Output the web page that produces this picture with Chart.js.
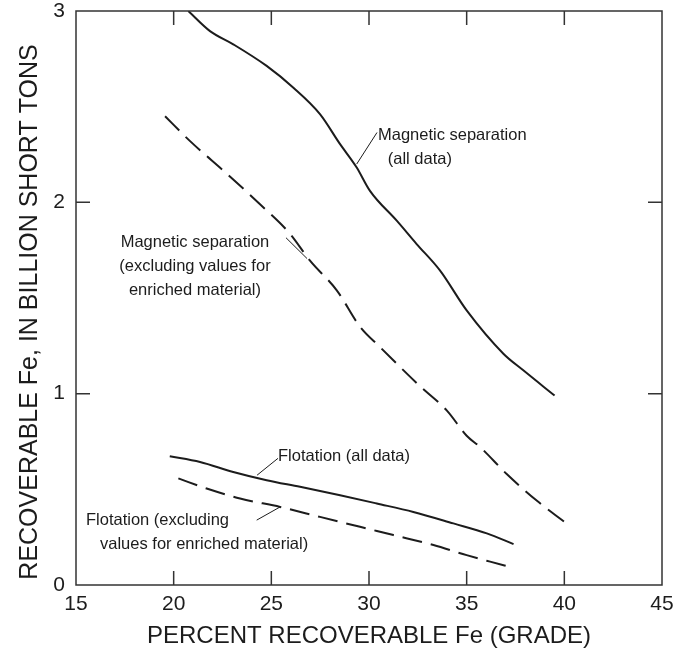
<!DOCTYPE html>
<html lang="en">
<head>
    <meta charset="UTF-8">
    <title>Recoverable Fe vs grade</title>
    <style>
        body {
            margin: 0;
            padding: 0;
            background: #ffffff;
        }
        #chart {
            display: block;
        }
    </style>
</head>
<body>
    <canvas id="chart" width="688" height="653"></canvas>

    <script src="https://cdn.jsdelivr.net/npm/chart.js"></script>
    <script>
        // Grade (percent recoverable Fe) and tonnage (billion short tons)
        const magAllX = [20.75, 21.86, 23.05, 24.76, 26.13, 27.49, 28.52, 29.37, 30.05, 31.42, 32.44, 33.64, 35.0, 36.88, 37.9, 39.5];
        const magAllY = [3.0, 2.895, 2.826, 2.713, 2.599, 2.461, 2.304, 2.182, 2.06, 1.904, 1.782, 1.643, 1.435, 1.209, 1.122, 0.99];

        const magExclX = [19.56, 20.84, 22.72, 24.42, 25.96, 26.98, 28.35, 29.54, 30.57, 32.6, 34.0, 35.0, 35.7, 37.05, 38.6, 40.0];
        const magExclY = [2.45, 2.32, 2.15, 1.99, 1.835, 1.695, 1.54, 1.35, 1.243, 1.04, 0.91, 0.78, 0.72, 0.58, 0.44, 0.33];

        const flotAllX = [19.8, 21.35, 23.05, 24.76, 26.47, 28.52, 30.4, 32.27, 34.32, 36.03, 37.4];
        const flotAllY = [0.673, 0.643, 0.591, 0.548, 0.513, 0.469, 0.426, 0.382, 0.322, 0.27, 0.214];

        const flotExclX = [20.24, 21.69, 23.4, 25.45, 27.49, 29.54, 31.25, 33.3, 35.0, 36.2, 37.3];
        const flotExclY = [0.557, 0.504, 0.452, 0.408, 0.356, 0.304, 0.261, 0.209, 0.156, 0.122, 0.092];

        const xTicks = [15, 20, 25, 30, 35, 40, 45];
        const yTicks = [0, 1, 2, 3];

        const xTitle = 'PERCENT RECOVERABLE Fe (GRADE)';
        const yTitle = 'RECOVERABLE Fe, IN BILLION SHORT TONS';

        const FONT = '"Liberation Sans", Arial, Helvetica, sans-serif';
        const INK = '#1c1c1c';

        function toPoints(xs, ys) {
            return xs.map((x, i) => ({ x: x, y: ys[i] }));
        }

        function lineSet(xs, ys, dashed) {
            return {
                data: toPoints(xs, ys),
                showLine: true,
                borderColor: INK,
                borderWidth: 2,
                borderDash: dashed ? [20, 9] : [],
                pointRadius: 0,
                cubicInterpolationMode: 'monotone',
                fill: false
            };
        }

        // Curve labels, anchored in data coordinates; leader = [x1, y1, x2, y2]
        const notes = [
            { lines: ['Magnetic separation', '(all data)'], x: 30.46, y: 2.35, dx: [0, 0.5], align: 'left', leader: [30.41, 2.365, 29.37, 2.20] },
            { lines: ['Magnetic separation', '(excluding values for', 'enriched material)'], x: 21.09, y: 1.789, align: 'center', leader: [25.75, 1.815, 26.83, 1.706] },
            { lines: ['Flotation (all data)'], x: 25.34, y: 0.67, align: 'left', leader: [25.34, 0.662, 24.27, 0.574] },
            { lines: ['Flotation (excluding', 'values for enriched material)'], x: 15.51, y: 0.335, dx: [0, 0.72], align: 'left', leader: [24.25, 0.339, 25.45, 0.408] }
        ];

        const framePlugin = {
            id: 'frame',
            afterDraw(chart) {
                const ctx = chart.ctx;
                const a = chart.chartArea;
                const xs = chart.scales.x;
                const ys = chart.scales.y;
                const tick = 14;
                ctx.save();
                ctx.strokeStyle = '#333';
                ctx.lineWidth = 1.5;
                ctx.strokeRect(a.left, a.top, a.right - a.left, a.bottom - a.top);
                ctx.beginPath();
                xTicks.slice(1, -1).forEach(v => {
                    const px = xs.getPixelForValue(v);
                    ctx.moveTo(px, a.bottom); ctx.lineTo(px, a.bottom - tick);
                    ctx.moveTo(px, a.top); ctx.lineTo(px, a.top + tick);
                });
                yTicks.slice(1, -1).forEach(v => {
                    const py = ys.getPixelForValue(v);
                    ctx.moveTo(a.left, py); ctx.lineTo(a.left + tick, py);
                    ctx.moveTo(a.right, py); ctx.lineTo(a.right - tick, py);
                });
                ctx.stroke();

                // axis titles
                ctx.fillStyle = INK;
                ctx.font = '24px ' + FONT;
                ctx.textAlign = 'center';
                ctx.textBaseline = 'middle';
                ctx.fillText(xTitle, (a.left + a.right) / 2, 636);
                ctx.save();
                ctx.translate(30, 312);
                ctx.rotate(-Math.PI / 2);
                ctx.font = '25px ' + FONT;
                ctx.fillText(yTitle, 0, 0);
                ctx.restore();

                // curve labels and leader lines
                ctx.font = '16.5px ' + FONT;
                ctx.lineWidth = 1;
                ctx.strokeStyle = INK;
                notes.forEach(n => {
                    ctx.textAlign = n.align;
                    const x0 = xs.getPixelForValue(n.x);
                    const y0 = ys.getPixelForValue(n.y);
                    n.lines.forEach((t, i) => {
                        const off = n.dx ? xs.getPixelForValue(n.x + n.dx[i]) - x0 : 0;
                        ctx.fillText(t, x0 + off, y0 + i * 24);
                    });
                    const l = n.leader;
                    ctx.beginPath();
                    ctx.moveTo(xs.getPixelForValue(l[0]), ys.getPixelForValue(l[1]));
                    ctx.lineTo(xs.getPixelForValue(l[2]), ys.getPixelForValue(l[3]));
                    ctx.stroke();
                });
                ctx.restore();
            }
        };

        new Chart(document.getElementById('chart'), {
            type: 'scatter',
            data: {
                datasets: [
                    lineSet(magAllX, magAllY, false),
                    lineSet(magExclX, magExclY, true),
                    lineSet(flotAllX, flotAllY, false),
                    lineSet(flotExclX, flotExclY, true)
                ]
            },
            options: {
                responsive: false,
                animation: false,
                layout: { padding: { top: 11, right: 26, left: 0, bottom: 0 } },
                plugins: {
                    legend: { display: false },
                    tooltip: { enabled: false }
                },
                scales: {
                    x: {
                        type: 'linear',
                        min: xTicks[0],
                        max: xTicks[xTicks.length - 1],
                        afterFit: s => { s.height = 68; s.paddingLeft = 0; s.paddingRight = 0; },
                        afterBuildTicks: s => { s.ticks = xTicks.map(v => ({ value: v })); },
                        grid: { display: false, drawTicks: false },
                        border: { display: false },
                        ticks: { color: INK, padding: 7, font: { family: FONT, size: 21 }, maxRotation: 0 }
                    },
                    y: {
                        type: 'linear',
                        min: yTicks[0],
                        max: yTicks[yTicks.length - 1],
                        afterFit: s => { s.width = 76; s.paddingTop = 0; s.paddingBottom = 0; },
                        afterBuildTicks: s => { s.ticks = yTicks.map(v => ({ value: v })); },
                        grid: { display: false, drawTicks: false },
                        border: { display: false },
                        ticks: { color: INK, padding: 11, font: { family: FONT, size: 21 } }
                    }
                }
            },
            plugins: [framePlugin]
        });
    </script>
</body>
</html>
